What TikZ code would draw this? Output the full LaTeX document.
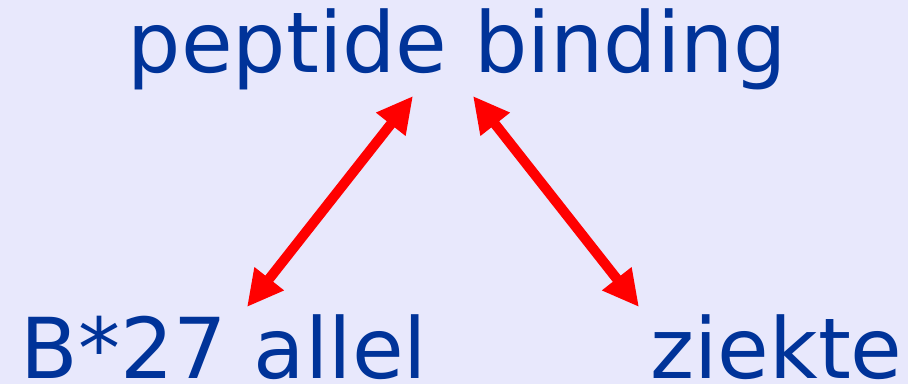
\documentclass[tikz,border=0pt]{standalone}
\usepackage{fontspec}
\setmainfont{DejaVu Sans}
\usetikzlibrary{arrows.meta}
\definecolor{bgcol}{HTML}{E8E8FC}
\definecolor{txtcol}{HTML}{003399}
\definecolor{arrcol}{HTML}{FF0000}
\tikzset{
  lbl/.style={inner sep=0pt, anchor=base, text=txtcol, font=\fontsize{84}{100}\selectfont},
  dbl/.style={draw=arrcol, line width=10pt,
    {Triangle[length=36pt,width=35pt]}-{Triangle[length=36pt,width=35pt]}}
}
\begin{document}
\begin{tikzpicture}[x=1pt,y=-1pt]
\fill[bgcol] (0,0) rectangle (908,384);
\useasboundingbox (0,0) rectangle (908,384);
\node[lbl] (pep) at (457.5,72) {peptide binding};
\node[lbl, text depth=0pt] (allel) at (224,378) {B*27 allel};
\node[lbl, text depth=0pt] (ziek) at (776.5,378) {ziekte};
\coordinate (l1) at (247,307);
\coordinate (l2) at (413,96);
\coordinate (r1) at (473,96);
\coordinate (r2) at (639,307);
\draw[dbl] (l1) -- (l2);
\draw[dbl] (r1) -- (r2);
\end{tikzpicture}
\end{document}
